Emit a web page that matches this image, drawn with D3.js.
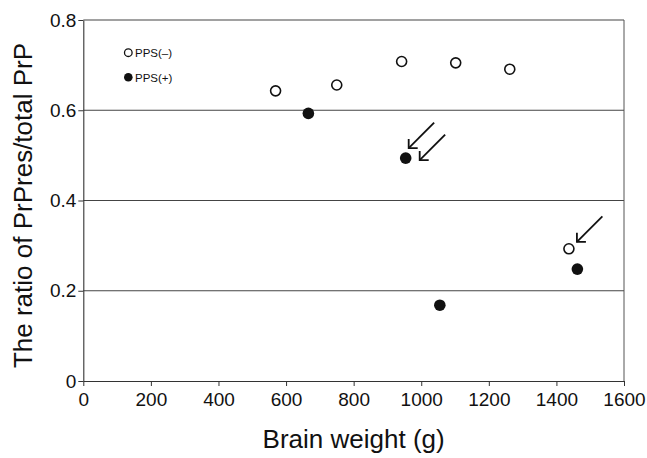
<!DOCTYPE html>
<html>
<head>
<meta charset="utf-8">
<script src="https://cdn.jsdelivr.net/npm/d3@7"></script>
<style>
  body { margin: 0; background: #fff; }
  svg { display: block; }
  text { font-family: "Liberation Sans", Arial, sans-serif; fill: #111; }
</style>
</head>
<body>
<div id="vis"></div>
<script>
const WIDTH = 647;
const HEIGHT = 458;
const MARGIN = { LEFT: 83.3, RIGHT: 23, TOP: 20, BOTTOM: 77 };

// data
const ppsMinusWeight = [569, 750, 942, 1102, 1262, 1437];
const ppsMinusRatio = [0.643, 0.656, 0.708, 0.705, 0.691, 0.293];
const ppsPlusWeight = [666, 954, 1055, 1462];
const ppsPlusRatio = [0.593, 0.494, 0.168, 0.248];

const xTicks = [0, 200, 400, 600, 800, 1000, 1200, 1400, 1600];
const yTicks = [0, 0.2, 0.4, 0.6, 0.8];
const yTickLabels = ["0", "0.2", "0.4", "0.6", "0.8"];

// arrows point at these samples (series, index)
const arrowTargets = [
  { series: "plus", i: 1, dx: 3, dy: -10 },
  { series: "plus", i: 1, dx: 14, dy: 2 },
  { series: "minus", i: 5, dx: 8, dy: -7 },
];

const svg = d3.select("#vis").append("svg")
  .attr("width", WIDTH)
  .attr("height", HEIGHT);

const xScale = d3.scaleLinear()
  .domain([0, 1600])
  .range([MARGIN.LEFT, WIDTH - MARGIN.RIGHT]);

const yScale = d3.scaleLinear()
  .domain([0, 0.8])
  .range([HEIGHT - MARGIN.BOTTOM, MARGIN.TOP]);

// horizontal grid lines
svg.append("g")
  .selectAll("line")
  .data(yTicks.filter((d) => d > 0))
  .enter()
  .append("line")
  .attr("x1", xScale(0))
  .attr("x2", xScale(1600))
  .attr("y1", (d) => yScale(d))
  .attr("y2", (d) => yScale(d))
  .attr("stroke", "#444")
  .attr("stroke-width", 1.1);

// right border
svg.append("line")
  .attr("x1", xScale(1600))
  .attr("x2", xScale(1600))
  .attr("y1", yScale(0))
  .attr("y2", yScale(0.8))
  .attr("stroke", "#555")
  .attr("stroke-width", 1);

// axes
const xAxis = svg.append("g")
  .attr("transform", `translate(0, ${yScale(0)})`)
  .call(d3.axisBottom(xScale).tickValues(xTicks).tickFormat(d3.format("d"))
    .tickSize(5).tickPadding(7).tickSizeOuter(0));

const yAxis = svg.append("g")
  .attr("transform", `translate(${xScale(0)},0)`)
  .call(d3.axisLeft(yScale).tickValues(yTicks).tickSize(5).tickPadding(2)
    .tickFormat((d, i) => yTickLabels[i]).tickSizeOuter(0));

[xAxis, yAxis].forEach((ax) => {
  ax.select(".domain").attr("stroke", "#333").attr("stroke-width", 1.1);
  ax.selectAll(".tick line").attr("stroke", "#333");
  ax.selectAll("text")
    .attr("font-family", "Liberation Sans, Arial, sans-serif")
    .attr("font-size", 19)
    .attr("fill", "#111");
});

// axis titles
svg.append("text")
  .attr("x", (xScale(0) + xScale(1600)) / 2)
  .attr("y", 448)
  .attr("text-anchor", "middle")
  .attr("font-size", 26)
  .text("Brain weight (g)");

svg.append("text")
  .attr("transform", `translate(32, ${(yScale(0) + yScale(0.8)) / 2 + 5}) rotate(-90)`)
  .attr("text-anchor", "middle")
  .attr("font-size", 26)
  .text("The ratio of PrPres/total PrP");

// points
const minusData = ppsMinusWeight.map((w, i) => ({ w: w, r: ppsMinusRatio[i] }));
const plusData = ppsPlusWeight.map((w, i) => ({ w: w, r: ppsPlusRatio[i] }));

svg.append("g")
  .selectAll("circle")
  .data(minusData)
  .enter()
  .append("circle")
  .attr("cx", (d) => xScale(d.w))
  .attr("cy", (d) => yScale(d.r))
  .attr("r", 5)
  .attr("fill", "#fff")
  .attr("stroke", "#111")
  .attr("stroke-width", 1.6);

svg.append("g")
  .selectAll("circle")
  .data(plusData)
  .enter()
  .append("circle")
  .attr("cx", (d) => xScale(d.w))
  .attr("cy", (d) => yScale(d.r))
  .attr("r", 5.8)
  .attr("fill", "#111");

// arrows
const ARROW_LEN = 36;
const HEAD = 9;
arrowTargets.forEach((a) => {
  const p = a.series === "plus" ? plusData[a.i] : minusData[a.i];
  const tx = xScale(p.w) + a.dx;
  const ty = yScale(p.r) + a.dy;
  const ang = Math.PI / 4;
  const sx = tx + ARROW_LEN * Math.cos(ang);
  const sy = ty - ARROW_LEN * Math.sin(ang);
  const g = svg.append("g").attr("stroke", "#111").attr("stroke-width", 1.8).attr("fill", "none");
  g.append("line").attr("x1", sx).attr("y1", sy).attr("x2", tx).attr("y2", ty);
  g.append("path")
    .attr("d", `M${tx},${ty - HEAD} L${tx},${ty} L${tx + HEAD},${ty}`);
});

// legend
const legend = svg.append("g");
legend.append("circle")
  .attr("cx", 128.3).attr("cy", 52.7).attr("r", 3.8)
  .attr("fill", "#fff").attr("stroke", "#111").attr("stroke-width", 1.3);
legend.append("text")
  .attr("x", 135).attr("y", 57)
  .attr("font-size", 11.5)
  .text("PPS(–)");
legend.append("circle")
  .attr("cx", 128.3).attr("cy", 77.3).attr("r", 4.3)
  .attr("fill", "#111");
legend.append("text")
  .attr("x", 135).attr("y", 81.5)
  .attr("font-size", 11.5)
  .text("PPS(+)");
</script>
</body>
</html>
